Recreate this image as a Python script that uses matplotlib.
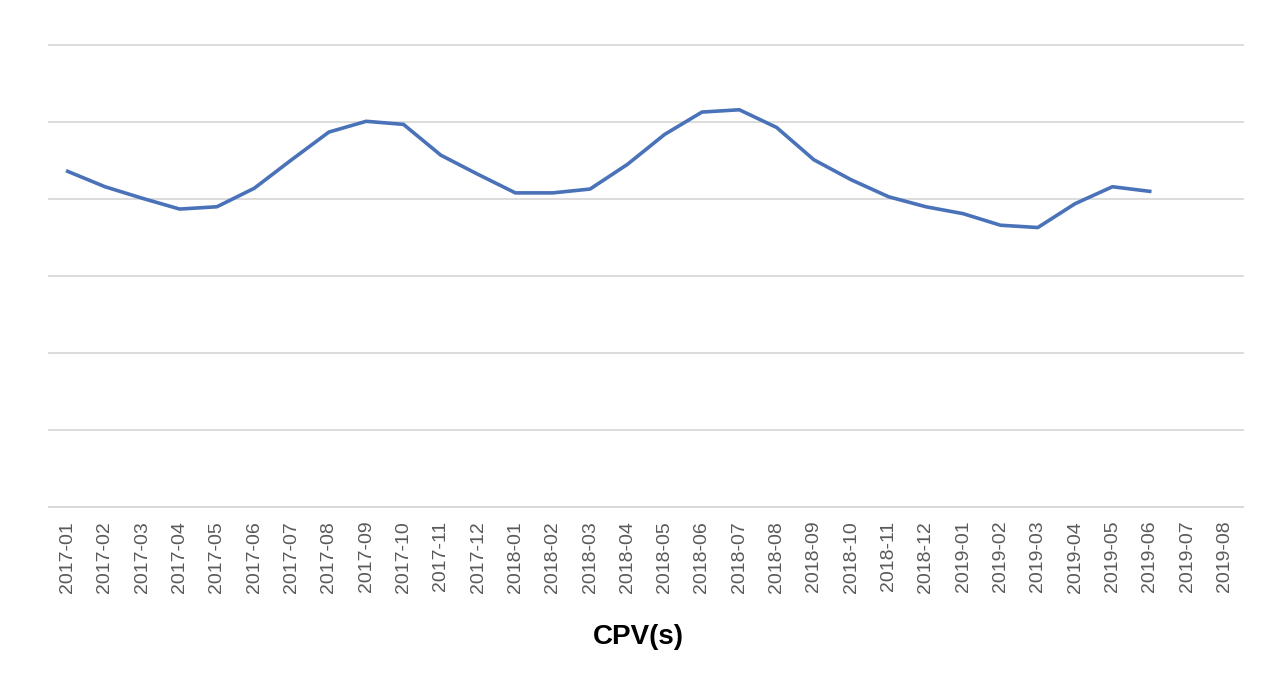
import matplotlib
matplotlib.use('Agg')
import matplotlib.pyplot as plt

months = ['2017-01', '2017-02', '2017-03', '2017-04', '2017-05', '2017-06',
          '2017-07', '2017-08', '2017-09', '2017-10', '2017-11', '2017-12',
          '2018-01', '2018-02', '2018-03', '2018-04', '2018-05', '2018-06',
          '2018-07', '2018-08', '2018-09', '2018-10', '2018-11', '2018-12',
          '2019-01', '2019-02', '2019-03', '2019-04', '2019-05', '2019-06',
          '2019-07', '2019-08']

# values (no y scale shown, arbitrary units 0-60)
cpv = [43.6, 41.6, 40.1, 38.7, 39.0, 41.4, 45.1, 48.7, 50.1, 49.7,
       45.7, 43.2, 40.8, 40.8, 41.3, 44.5, 48.4, 51.3, 51.6, 49.3,
       45.1, 42.5, 40.3, 39.0, 38.1, 36.6, 36.3, 39.4, 41.6, 41.0]

fig = plt.figure(figsize=(12.8, 6.73), dpi=100)
ax = fig.add_axes([0.0383, 0.2467, 0.9328, 0.6863])

ax.plot(range(len(cpv)), cpv, color='#4a72b8', lw=2.6, solid_joinstyle='round')

ax.set_xlim(-0.5, len(months) - 0.5)
ax.set_ylim(0, 60)
ax.set_yticks(range(0, 61, 10))
ax.yaxis.grid(True, color='#d9d9d9', lw=1.3)
for gl in ax.get_ygridlines():
    gl.set_clip_on(False)
ax.set_axisbelow(True)
ax.tick_params(axis='y', left=False, labelleft=False)

ax.set_xticks(range(len(months)))
ax.set_xticklabels(months, rotation=90, fontsize=14, color='#595959',
                   family='Liberation Sans')
ax.tick_params(axis='x', length=0, pad=10)

for s in ['top', 'right', 'left']:
    ax.spines[s].set_visible(False)
ax.spines['bottom'].set_color('#d9d9d9')
ax.spines['bottom'].set_linewidth(1.3)

fig.text(0.4985, 0.054, 'CPV(s)', ha='center', va='center', fontsize=20,
         fontweight='bold', family='Liberation Sans')

fig.savefig('out.png', dpi=100)
